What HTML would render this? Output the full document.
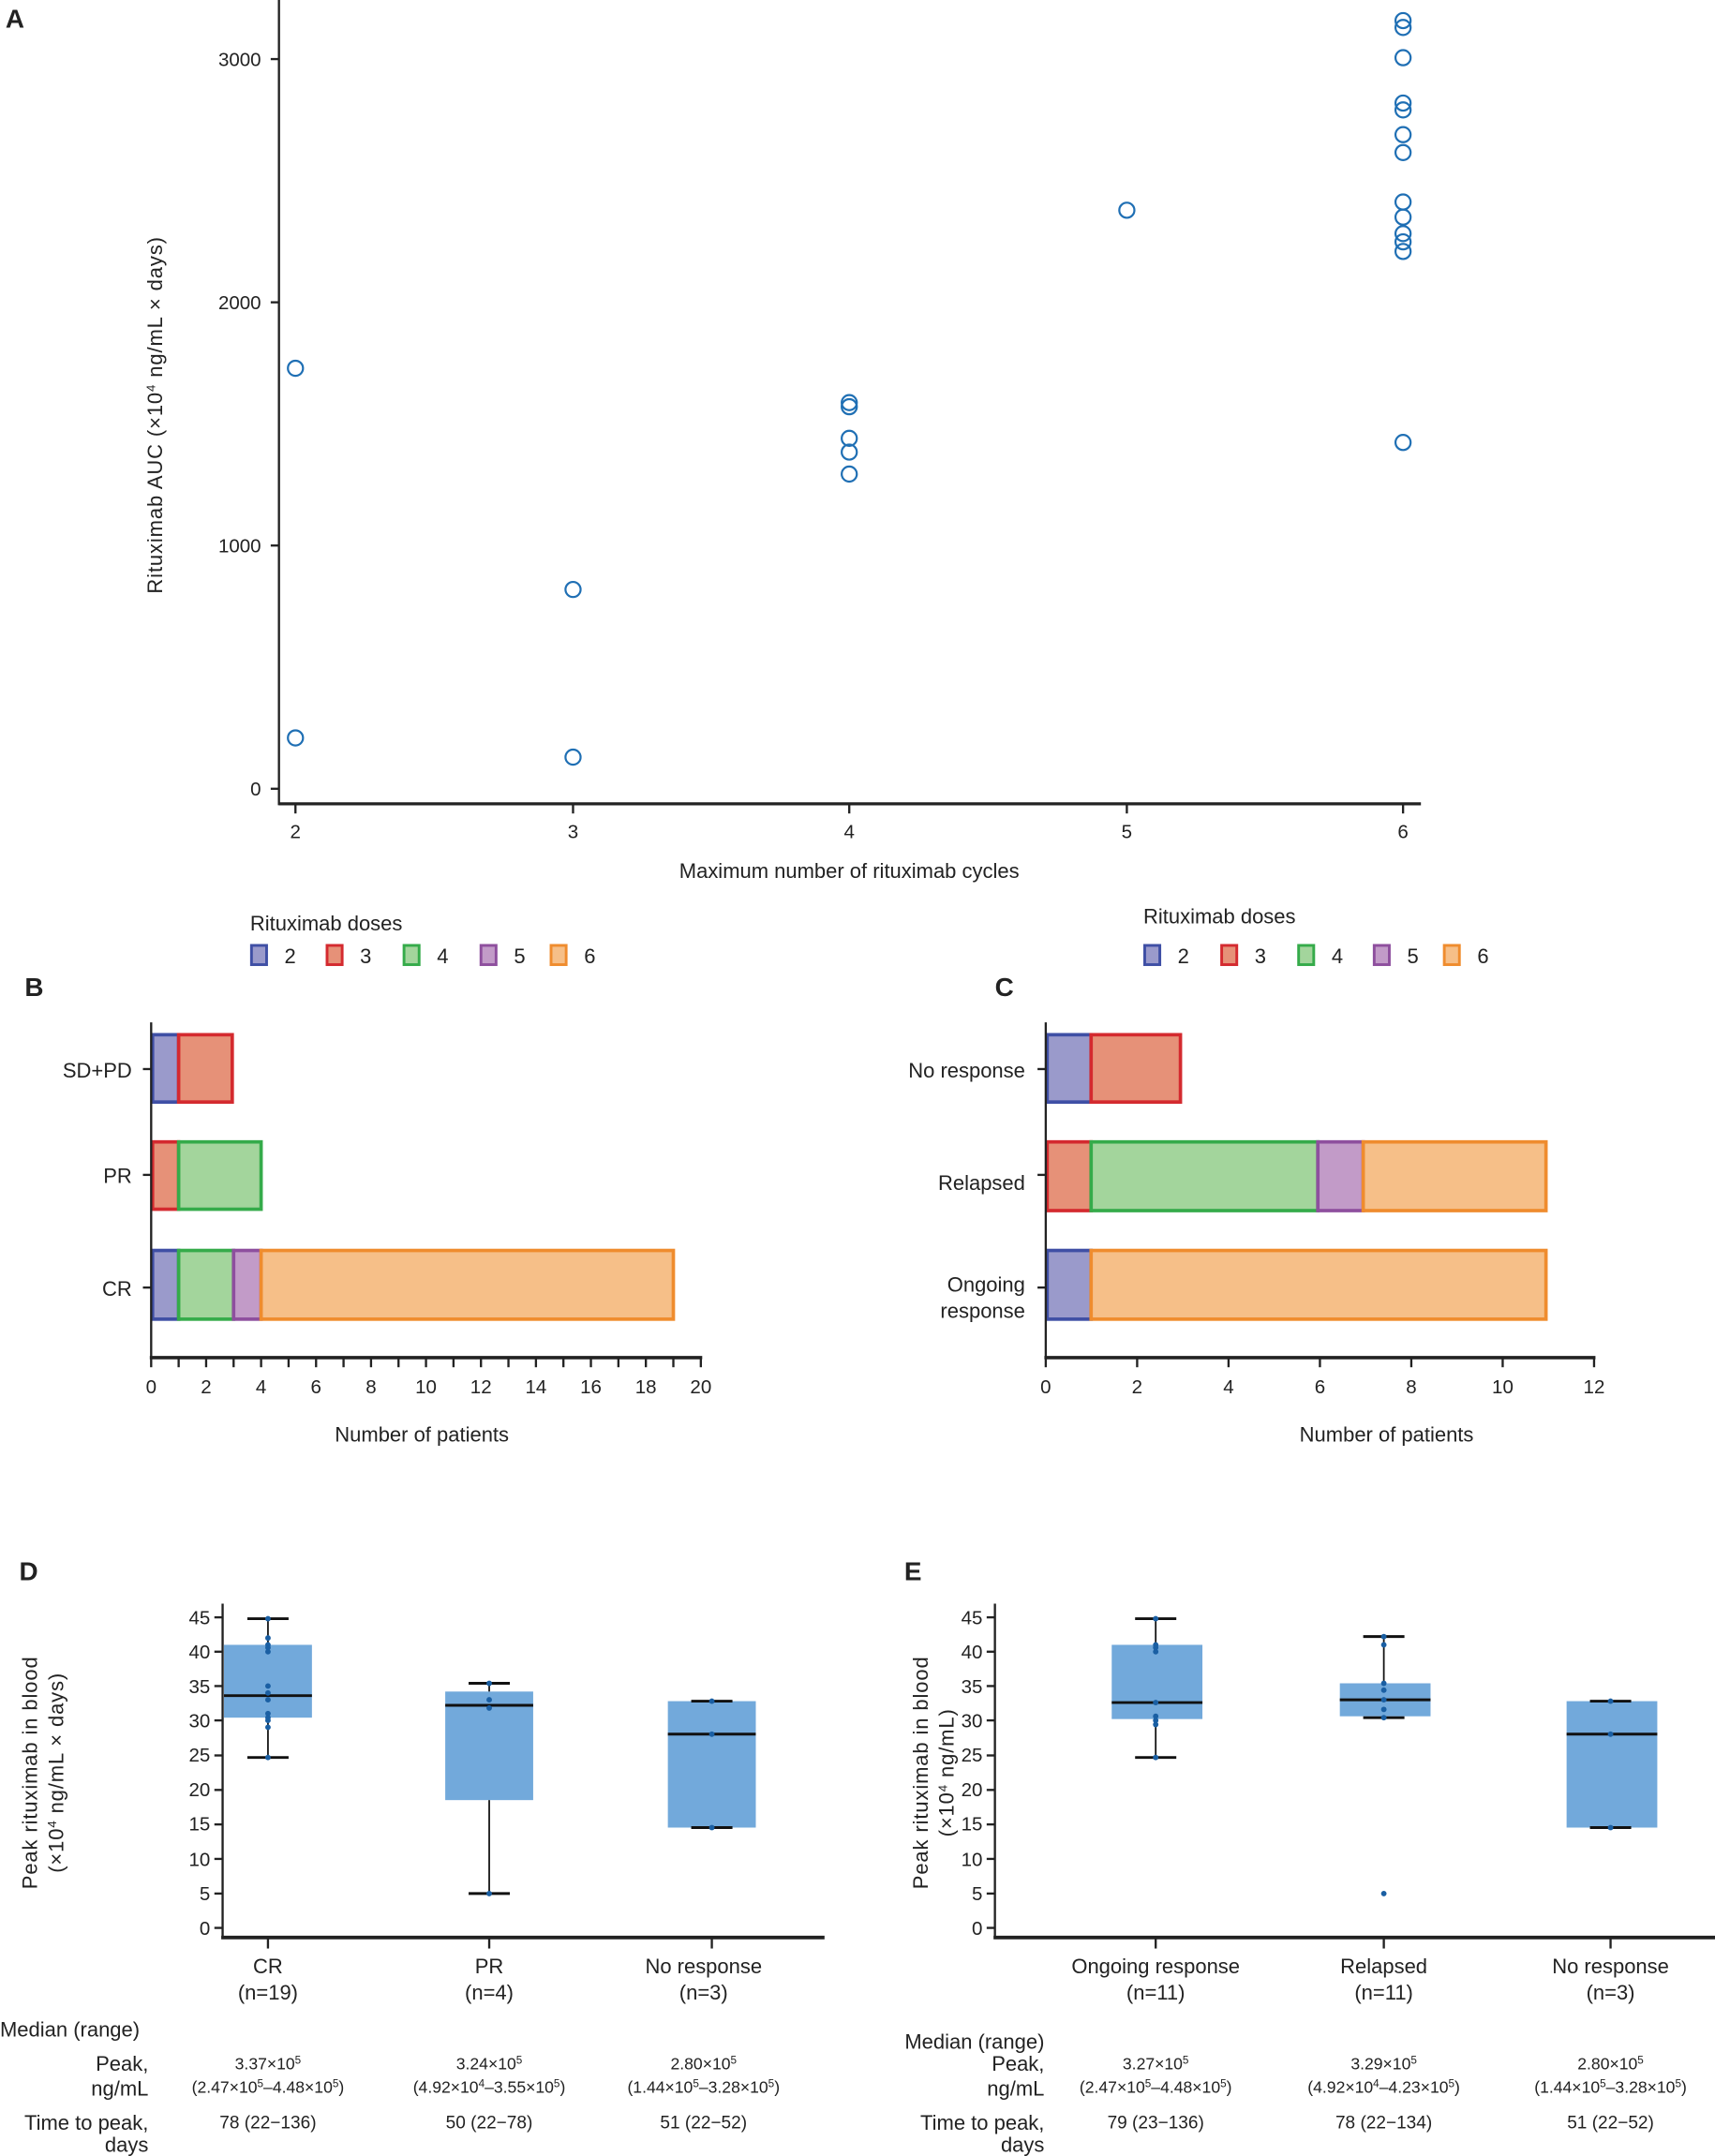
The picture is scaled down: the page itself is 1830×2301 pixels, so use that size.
<!DOCTYPE html>
<html><head><meta charset="utf-8"><style>html,body{margin:0;padding:0;background:#fff}svg{display:block}text{font-family:"Liberation Sans",sans-serif;fill:#222}</style></head>
<body>
<svg width="1830" height="2301" viewBox="0 0 1248 1569" preserveAspectRatio="none" xmlns="http://www.w3.org/2000/svg">
<!-- Panel A -->
<text x="4" y="20" font-size="19" font-weight="bold">A</text>
<g stroke="#222" fill="none">
<line x1="203" y1="0" x2="203" y2="586" stroke-width="1.6"/>
<line x1="203" y1="585" x2="1034" y2="585" stroke-width="2.2"/>
<line x1="197" y1="43" x2="203" y2="43" stroke-width="1.6"/>
<line x1="197" y1="220" x2="203" y2="220" stroke-width="1.6"/>
<line x1="197" y1="397" x2="203" y2="397" stroke-width="1.6"/>
<line x1="197" y1="574" x2="203" y2="574" stroke-width="1.6"/>
<line x1="215" y1="585" x2="215" y2="592" stroke-width="1.6"/>
<line x1="417" y1="585" x2="417" y2="592" stroke-width="1.6"/>
<line x1="618" y1="585" x2="618" y2="592" stroke-width="1.6"/>
<line x1="820" y1="585" x2="820" y2="592" stroke-width="1.6"/>
<line x1="1021" y1="585" x2="1021" y2="592" stroke-width="1.6"/>
</g>
<g font-size="14" text-anchor="end">
<text x="190" y="48">3000</text><text x="190" y="225">2000</text><text x="190" y="402">1000</text><text x="190" y="579">0</text>
</g>
<g font-size="14" text-anchor="middle">
<text x="215" y="610">2</text><text x="417" y="610">3</text><text x="618" y="610">4</text><text x="820" y="610">5</text><text x="1021" y="610">6</text>
<text x="618" y="639" font-size="15">Maximum number of rituximab cycles</text>
<text transform="translate(118,302) rotate(-90)" font-size="15" letter-spacing="0.6">Rituximab AUC (×10<tspan font-size="9" dy="-5">4</tspan><tspan dy="5"> ng/mL × days)</tspan></text>
</g>
<g stroke="#1f6fb4" stroke-width="1.5" fill="none">
<circle cx="215" cy="268" r="5.5"/><circle cx="215" cy="537" r="5.5"/>
<circle cx="417" cy="429" r="5.5"/><circle cx="417" cy="551" r="5.5"/>
<circle cx="618" cy="293" r="5.5"/><circle cx="618" cy="296" r="5.5"/><circle cx="618" cy="319" r="5.5"/><circle cx="618" cy="329" r="5.5"/><circle cx="618" cy="345" r="5.5"/>
<circle cx="820" cy="153" r="5.5"/>
<circle cx="1021" cy="15" r="5.5"/><circle cx="1021" cy="20" r="5.5"/><circle cx="1021" cy="42" r="5.5"/><circle cx="1021" cy="75" r="5.5"/><circle cx="1021" cy="80" r="5.5"/><circle cx="1021" cy="98" r="5.5"/><circle cx="1021" cy="111" r="5.5"/><circle cx="1021" cy="147" r="5.5"/><circle cx="1021" cy="158" r="5.5"/><circle cx="1021" cy="170" r="5.5"/><circle cx="1021" cy="176" r="5.5"/><circle cx="1021" cy="183" r="5.5"/><circle cx="1021" cy="322" r="5.5"/>
</g>

<!-- Legends -->
<text x="182" y="677" font-size="15">Rituximab doses</text>
<g stroke-width="2">
<rect x="183" y="688" width="11" height="14" fill="#9a9acb" stroke="#3f4fa5"/>
<rect x="238" y="688" width="11" height="14" fill="#e69178" stroke="#d42a2f"/>
<rect x="294" y="688" width="11" height="14" fill="#a3d59c" stroke="#35ab4a"/>
<rect x="350" y="688" width="11" height="14" fill="#c29bc8" stroke="#8e4f9e"/>
<rect x="401" y="688" width="11" height="14" fill="#f6bf88" stroke="#ef8c2e"/>
</g>
<g font-size="15"><text x="207" y="701">2</text><text x="262" y="701">3</text><text x="318" y="701">4</text><text x="374" y="701">5</text><text x="425" y="701">6</text></g>
<text x="832" y="672" font-size="15">Rituximab doses</text>
<g stroke-width="2">
<rect x="833" y="688" width="11" height="14" fill="#9a9acb" stroke="#3f4fa5"/>
<rect x="889" y="688" width="11" height="14" fill="#e69178" stroke="#d42a2f"/>
<rect x="945" y="688" width="11" height="14" fill="#a3d59c" stroke="#35ab4a"/>
<rect x="1000" y="688" width="11" height="14" fill="#c29bc8" stroke="#8e4f9e"/>
<rect x="1051" y="688" width="11" height="14" fill="#f6bf88" stroke="#ef8c2e"/>
</g>
<g font-size="15"><text x="857" y="701">2</text><text x="913" y="701">3</text><text x="969" y="701">4</text><text x="1024" y="701">5</text><text x="1075" y="701">6</text></g>

<!-- Panel B -->
<text x="18" y="725" font-size="19" font-weight="bold">B</text>
<g stroke-width="2.5">
<rect x="111" y="753" width="19" height="49" fill="#9a9acb" stroke="#3f4fa5"/>
<rect x="130" y="753" width="39" height="49" fill="#e69178" stroke="#d42a2f"/>
<rect x="111" y="831" width="19" height="49" fill="#e69178" stroke="#d42a2f"/>
<rect x="130" y="831" width="60" height="49" fill="#a3d59c" stroke="#35ab4a"/>
<rect x="111" y="910" width="19" height="50" fill="#9a9acb" stroke="#3f4fa5"/>
<rect x="130" y="910" width="40" height="50" fill="#a3d59c" stroke="#35ab4a"/>
<rect x="170" y="910" width="20" height="50" fill="#c29bc8" stroke="#8e4f9e"/>
<rect x="190" y="910" width="300" height="50" fill="#f6bf88" stroke="#ef8c2e"/>
</g>
<g stroke="#222" stroke-width="1.6">
<line x1="110" y1="744" x2="110" y2="989"/>
<line x1="109" y1="988" x2="511" y2="988" stroke-width="2.4"/>
<line x1="104" y1="778" x2="110" y2="778"/><line x1="104" y1="855" x2="110" y2="855"/><line x1="104" y1="937" x2="110" y2="937"/>
<line x1="110" y1="988" x2="110" y2="995"/><line x1="130" y1="988" x2="130" y2="995"/><line x1="150" y1="988" x2="150" y2="995"/><line x1="170" y1="988" x2="170" y2="995"/><line x1="190" y1="988" x2="190" y2="995"/><line x1="210" y1="988" x2="210" y2="995"/><line x1="230" y1="988" x2="230" y2="995"/><line x1="250" y1="988" x2="250" y2="995"/><line x1="270" y1="988" x2="270" y2="995"/><line x1="290" y1="988" x2="290" y2="995"/><line x1="310" y1="988" x2="310" y2="995"/><line x1="330" y1="988" x2="330" y2="995"/><line x1="350" y1="988" x2="350" y2="995"/><line x1="370" y1="988" x2="370" y2="995"/><line x1="390" y1="988" x2="390" y2="995"/><line x1="410" y1="988" x2="410" y2="995"/><line x1="430" y1="988" x2="430" y2="995"/><line x1="450" y1="988" x2="450" y2="995"/><line x1="470" y1="988" x2="470" y2="995"/><line x1="490" y1="988" x2="490" y2="995"/><line x1="510" y1="988" x2="510" y2="995"/>
</g>
<g font-size="14" text-anchor="middle">
<text x="110" y="1014">0</text><text x="150" y="1014">2</text><text x="190" y="1014">4</text><text x="230" y="1014">6</text><text x="270" y="1014">8</text><text x="310" y="1014">10</text><text x="350" y="1014">12</text><text x="390" y="1014">14</text><text x="430" y="1014">16</text><text x="470" y="1014">18</text><text x="510" y="1014">20</text>
<text x="307" y="1049" font-size="15">Number of patients</text>
</g>
<g font-size="15" text-anchor="end"><text x="96" y="784">SD+PD</text><text x="96" y="861">PR</text><text x="96" y="943">CR</text></g>

<!-- Panel C -->
<text x="724" y="725" font-size="19" font-weight="bold">C</text>
<g stroke-width="2.5">
<rect x="762" y="753" width="32" height="49" fill="#9a9acb" stroke="#3f4fa5"/>
<rect x="794" y="753" width="65" height="49" fill="#e69178" stroke="#d42a2f"/>
<rect x="762" y="831" width="32" height="50" fill="#e69178" stroke="#d42a2f"/>
<rect x="794" y="831" width="165" height="50" fill="#a3d59c" stroke="#35ab4a"/>
<rect x="959" y="831" width="33" height="50" fill="#c29bc8" stroke="#8e4f9e"/>
<rect x="992" y="831" width="133" height="50" fill="#f6bf88" stroke="#ef8c2e"/>
<rect x="762" y="910" width="32" height="50" fill="#9a9acb" stroke="#3f4fa5"/>
<rect x="794" y="910" width="331" height="50" fill="#f6bf88" stroke="#ef8c2e"/>
</g>
<g stroke="#222" stroke-width="1.6">
<line x1="761" y1="744" x2="761" y2="989"/>
<line x1="760" y1="988" x2="1161" y2="988" stroke-width="2.4"/>
<line x1="755" y1="778" x2="761" y2="778"/><line x1="755" y1="855" x2="761" y2="855"/><line x1="755" y1="937" x2="761" y2="937"/>
<line x1="761" y1="988" x2="761" y2="995"/><line x1="827.5" y1="988" x2="827.5" y2="995"/><line x1="894" y1="988" x2="894" y2="995"/><line x1="960.5" y1="988" x2="960.5" y2="995"/><line x1="1027" y1="988" x2="1027" y2="995"/><line x1="1093.5" y1="988" x2="1093.5" y2="995"/><line x1="1160" y1="988" x2="1160" y2="995"/>
</g>
<g font-size="14" text-anchor="middle">
<text x="761" y="1014">0</text><text x="827.5" y="1014">2</text><text x="894" y="1014">4</text><text x="960.5" y="1014">6</text><text x="1027" y="1014">8</text><text x="1093.5" y="1014">10</text><text x="1160" y="1014">12</text>
<text x="1009" y="1049" font-size="15">Number of patients</text>
</g>
<g font-size="15" text-anchor="end"><text x="746" y="784">No response</text><text x="746" y="866">Relapsed</text><text x="746" y="940">Ongoing</text><text x="746" y="959">response</text></g>

<!-- Panel D -->
<text x="14" y="1150" font-size="19" font-weight="bold">D</text>
<g fill="#72a9db">
<rect x="163" y="1197" width="64" height="53"/>
<rect x="324" y="1231" width="64" height="79"/>
<rect x="486" y="1238" width="64" height="92"/>
</g>
<g stroke="#111" stroke-width="1.2">
<line x1="195" y1="1178" x2="195" y2="1197"/><line x1="195" y1="1250" x2="195" y2="1279"/>
<line x1="356" y1="1225" x2="356" y2="1231"/><line x1="356" y1="1310" x2="356" y2="1378"/>
</g>
<g stroke="#111" stroke-width="2">
<line x1="163" y1="1234" x2="227" y2="1234"/><line x1="180" y1="1178" x2="210" y2="1178"/><line x1="180" y1="1279" x2="210" y2="1279"/>
<line x1="324" y1="1241" x2="388" y2="1241"/><line x1="341" y1="1225" x2="371" y2="1225"/><line x1="341" y1="1378" x2="371" y2="1378"/>
<line x1="486" y1="1262" x2="550" y2="1262"/><line x1="503" y1="1238" x2="533" y2="1238"/><line x1="503" y1="1330" x2="533" y2="1330"/>
</g>
<g fill="#1a5fa3">
<circle cx="195" cy="1178" r="2"/><circle cx="195" cy="1192" r="2"/><circle cx="195" cy="1197" r="2"/><circle cx="195" cy="1199" r="2"/><circle cx="195" cy="1202" r="2"/><circle cx="195" cy="1227" r="2"/><circle cx="195" cy="1232" r="2"/><circle cx="195" cy="1237" r="2"/><circle cx="195" cy="1247" r="2"/><circle cx="195" cy="1250" r="2"/><circle cx="195" cy="1252" r="2"/><circle cx="195" cy="1257" r="2"/><circle cx="195" cy="1279" r="2"/>
<circle cx="356" cy="1225" r="2"/><circle cx="356" cy="1237" r="2"/><circle cx="356" cy="1243" r="2"/><circle cx="356" cy="1378" r="2"/>
<circle cx="518" cy="1238" r="2"/><circle cx="518" cy="1262" r="2"/><circle cx="518" cy="1330" r="2"/>
</g>
<g stroke="#222" stroke-width="1.6">
<line x1="162" y1="1167" x2="162" y2="1411"/>
<line x1="161" y1="1410" x2="600" y2="1410" stroke-width="2.6"/>
<line x1="156" y1="1177" x2="162" y2="1177"/><line x1="156" y1="1202" x2="162" y2="1202"/><line x1="156" y1="1227" x2="162" y2="1227"/><line x1="156" y1="1252" x2="162" y2="1252"/><line x1="156" y1="1277.5" x2="162" y2="1277.5"/><line x1="156" y1="1302.6" x2="162" y2="1302.6"/><line x1="156" y1="1327.7" x2="162" y2="1327.7"/><line x1="156" y1="1352.8" x2="162" y2="1352.8"/><line x1="156" y1="1378" x2="162" y2="1378"/><line x1="156" y1="1403" x2="162" y2="1403"/>
<line x1="195" y1="1410" x2="195" y2="1418"/><line x1="356" y1="1410" x2="356" y2="1418"/><line x1="518" y1="1410" x2="518" y2="1418"/>
</g>
<g font-size="14" text-anchor="end">
<text x="153" y="1182">45</text><text x="153" y="1207">40</text><text x="153" y="1232">35</text><text x="153" y="1257">30</text><text x="153" y="1282">25</text><text x="153" y="1307">20</text><text x="153" y="1332">15</text><text x="153" y="1358">10</text><text x="153" y="1383">5</text><text x="153" y="1408">0</text>
</g>
<g font-size="15" text-anchor="middle" letter-spacing="0.6">
<text transform="translate(27,1290) rotate(-90)">Peak rituximab in blood</text>
<text transform="translate(46,1290) rotate(-90)">(×10<tspan font-size="9" dy="-5">4</tspan><tspan dy="5"> ng/mL × days)</tspan></text>
</g>
<g text-anchor="middle" font-size="15">
<text x="195" y="1436">CR</text><text x="195" y="1455">(n=19)</text>
<text x="356" y="1436">PR</text><text x="356" y="1455">(n=4)</text>
<text x="512" y="1436">No response</text><text x="512" y="1455">(n=3)</text>
</g>
<text x="0" y="1482" font-size="15">Median (range)</text>
<g font-size="15" text-anchor="end"><text x="108" y="1507">Peak,</text><text x="108" y="1525">ng/mL</text><text x="108" y="1550">Time to peak,</text><text x="108" y="1566">days</text></g>
<g font-size="12" text-anchor="middle">
<text x="195" y="1506">3.37×10<tspan font-size="8" dy="-4">5</tspan></text>
<text x="195" y="1523">(2.47×10<tspan font-size="8" dy="-4">5</tspan><tspan dy="4">–4.48×10</tspan><tspan font-size="8" dy="-4">5</tspan><tspan dy="4">)</tspan></text>
<text x="356" y="1506">3.24×10<tspan font-size="8" dy="-4">5</tspan></text>
<text x="356" y="1523">(4.92×10<tspan font-size="8" dy="-4">4</tspan><tspan dy="4">–3.55×10</tspan><tspan font-size="8" dy="-4">5</tspan><tspan dy="4">)</tspan></text>
<text x="512" y="1506">2.80×10<tspan font-size="8" dy="-4">5</tspan></text>
<text x="512" y="1523">(1.44×10<tspan font-size="8" dy="-4">5</tspan><tspan dy="4">–3.28×10</tspan><tspan font-size="8" dy="-4">5</tspan><tspan dy="4">)</tspan></text>
<text x="195" y="1549" font-size="13">78 (22−136)</text><text x="356" y="1549" font-size="13">50 (22−78)</text><text x="512" y="1549" font-size="13">51 (22−52)</text>
</g>

<!-- Panel E -->
<text x="658" y="1150" font-size="19" font-weight="bold">E</text>
<g fill="#72a9db">
<rect x="809" y="1197" width="66" height="54"/>
<rect x="975" y="1225" width="66" height="24"/>
<rect x="1140" y="1238" width="66" height="92"/>
</g>
<g stroke="#111" stroke-width="1.2">
<line x1="841" y1="1178" x2="841" y2="1197"/><line x1="841" y1="1251" x2="841" y2="1279"/>
<line x1="1007" y1="1191" x2="1007" y2="1225"/><line x1="1007" y1="1249" x2="1007" y2="1250"/>
</g>
<g stroke="#111" stroke-width="2">
<line x1="809" y1="1239" x2="875" y2="1239"/><line x1="826" y1="1178" x2="856" y2="1178"/><line x1="826" y1="1279" x2="856" y2="1279"/>
<line x1="975" y1="1237" x2="1041" y2="1237"/><line x1="992" y1="1191" x2="1022" y2="1191"/><line x1="992" y1="1250" x2="1022" y2="1250"/>
<line x1="1140" y1="1262" x2="1206" y2="1262"/><line x1="1157" y1="1238" x2="1187" y2="1238"/><line x1="1157" y1="1330" x2="1187" y2="1330"/>
</g>
<g fill="#1a5fa3">
<circle cx="841" cy="1178" r="2"/><circle cx="841" cy="1197" r="2"/><circle cx="841" cy="1199" r="2"/><circle cx="841" cy="1202" r="2"/><circle cx="841" cy="1239" r="2"/><circle cx="841" cy="1249" r="2"/><circle cx="841" cy="1252" r="2"/><circle cx="841" cy="1255" r="2"/><circle cx="841" cy="1279" r="2"/>
<circle cx="1007" cy="1191" r="2"/><circle cx="1007" cy="1197" r="2"/><circle cx="1007" cy="1225" r="2"/><circle cx="1007" cy="1230" r="2"/><circle cx="1007" cy="1237" r="2"/><circle cx="1007" cy="1244" r="2"/><circle cx="1007" cy="1250" r="2"/><circle cx="1007" cy="1378" r="2"/>
<circle cx="1172" cy="1238" r="2"/><circle cx="1172" cy="1262" r="2"/><circle cx="1172" cy="1330" r="2"/>
</g>
<g stroke="#222" stroke-width="1.6">
<line x1="724" y1="1167" x2="724" y2="1411"/>
<line x1="723" y1="1410" x2="1248" y2="1410" stroke-width="2.6"/>
<line x1="718" y1="1177" x2="724" y2="1177"/><line x1="718" y1="1202" x2="724" y2="1202"/><line x1="718" y1="1227" x2="724" y2="1227"/><line x1="718" y1="1252" x2="724" y2="1252"/><line x1="718" y1="1277.5" x2="724" y2="1277.5"/><line x1="718" y1="1302.6" x2="724" y2="1302.6"/><line x1="718" y1="1327.7" x2="724" y2="1327.7"/><line x1="718" y1="1352.8" x2="724" y2="1352.8"/><line x1="718" y1="1378" x2="724" y2="1378"/><line x1="718" y1="1403" x2="724" y2="1403"/>
<line x1="841" y1="1410" x2="841" y2="1418"/><line x1="1007" y1="1410" x2="1007" y2="1418"/><line x1="1172" y1="1410" x2="1172" y2="1418"/>
</g>
<g font-size="14" text-anchor="end">
<text x="715" y="1182">45</text><text x="715" y="1207">40</text><text x="715" y="1232">35</text><text x="715" y="1257">30</text><text x="715" y="1282">25</text><text x="715" y="1307">20</text><text x="715" y="1332">15</text><text x="715" y="1358">10</text><text x="715" y="1383">5</text><text x="715" y="1408">0</text>
</g>
<g font-size="15" text-anchor="middle" letter-spacing="0.6">
<text transform="translate(675,1290) rotate(-90)">Peak rituximab in blood</text>
<text transform="translate(694,1290) rotate(-90)">(×10<tspan font-size="9" dy="-5">4</tspan><tspan dy="5"> ng/mL)</tspan></text>
</g>
<g text-anchor="middle" font-size="15">
<text x="841" y="1436">Ongoing response</text><text x="841" y="1455">(n=11)</text>
<text x="1007" y="1436">Relapsed</text><text x="1007" y="1455">(n=11)</text>
<text x="1172" y="1436">No response</text><text x="1172" y="1455">(n=3)</text>
</g>
<g font-size="15" text-anchor="end"><text x="760" y="1491">Median (range)</text><text x="760" y="1507">Peak,</text><text x="760" y="1525">ng/mL</text><text x="760" y="1550">Time to peak,</text><text x="760" y="1566">days</text></g>
<g font-size="12" text-anchor="middle">
<text x="841" y="1506">3.27×10<tspan font-size="8" dy="-4">5</tspan></text>
<text x="841" y="1523">(2.47×10<tspan font-size="8" dy="-4">5</tspan><tspan dy="4">–4.48×10</tspan><tspan font-size="8" dy="-4">5</tspan><tspan dy="4">)</tspan></text>
<text x="1007" y="1506">3.29×10<tspan font-size="8" dy="-4">5</tspan></text>
<text x="1007" y="1523">(4.92×10<tspan font-size="8" dy="-4">4</tspan><tspan dy="4">–4.23×10</tspan><tspan font-size="8" dy="-4">5</tspan><tspan dy="4">)</tspan></text>
<text x="1172" y="1506">2.80×10<tspan font-size="8" dy="-4">5</tspan></text>
<text x="1172" y="1523">(1.44×10<tspan font-size="8" dy="-4">5</tspan><tspan dy="4">–3.28×10</tspan><tspan font-size="8" dy="-4">5</tspan><tspan dy="4">)</tspan></text>
<text x="841" y="1549" font-size="13">79 (23−136)</text><text x="1007" y="1549" font-size="13">78 (22−134)</text><text x="1172" y="1549" font-size="13">51 (22−52)</text>
</g>
</svg>
</body></html>
